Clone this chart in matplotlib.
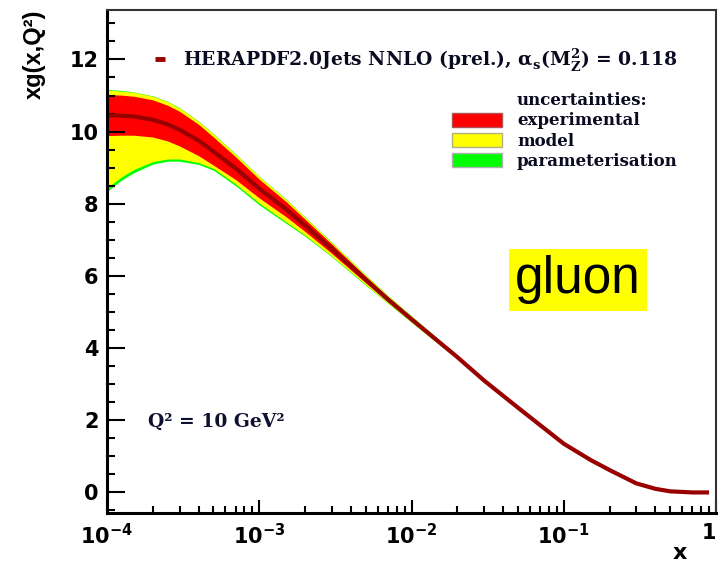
import numpy as np
import matplotlib.pyplot as plt
from matplotlib.lines import Line2D
from matplotlib.patches import Patch

# central gluon PDF at Q2 = 10 GeV2
x = [1e-4, 1.25e-4, 1.5e-4, 2e-4, 2.5e-4, 3e-4, 4e-4, 5e-4, 7e-4, 1e-3, 1.5e-3, 2e-3, 3e-3,
     5e-3, 7e-3, 1e-2, 2e-2, 3e-2, 5e-2, 0.1, 0.15, 0.2, 0.3, 0.4, 0.5, 0.7, 0.9]
central = [10.45, 10.44, 10.42, 10.33, 10.2, 10.05, 9.75, 9.45, 8.98, 8.42, 7.85, 7.4, 6.75,
           5.9, 5.35, 4.8, 3.75, 3.1, 2.35, 1.35, 0.9, 0.62, 0.25, 0.1, 0.03, 0.0, 0.0]

# uncertainty bands (only visible at low x)
x_band = [1e-4, 1.25e-4, 1.5e-4, 2e-4, 2.5e-4, 3e-4, 4e-4, 5e-4, 7e-4, 1e-3, 1.5e-3, 2e-3,
          3e-3, 5e-3, 7e-3, 1e-2, 2e-2]
exp_hi = [11.03, 11.01, 10.98, 10.88, 10.73, 10.56, 10.2, 9.85, 9.3, 8.68, 8.06, 7.57,
          6.88, 5.99, 5.42, 4.85, 3.79]
exp_lo = [9.89, 9.9, 9.9, 9.85, 9.74, 9.6, 9.33, 9.07, 8.67, 8.16, 7.64, 7.23,
          6.62, 5.81, 5.28, 4.75, 3.71]
mod_hi = [11.15, 11.12, 11.09, 10.98, 10.83, 10.65, 10.28, 9.93, 9.37, 8.75, 8.12, 7.62,
          6.92, 6.02, 5.45, 4.88, 3.8]
mod_lo = [8.44, 8.75, 8.95, 9.17, 9.24, 9.24, 9.14, 8.98, 8.55, 8.02, 7.5, 7.13,
          6.55, 5.76, 5.25, 4.72, 3.7]
par_hi = [11.17, 11.14, 11.1, 10.99, 10.84, 10.66, 10.29, 9.94, 9.38, 8.76, 8.13, 7.63,
          6.93, 6.03, 5.46, 4.89, 3.8]
par_lo = [8.34, 8.66, 8.86, 9.1, 9.18, 9.18, 9.09, 8.93, 8.5, 7.97, 7.46, 7.1,
          6.53, 5.74, 5.24, 4.71, 3.7]

xtick_vals = [1e-4, 1e-3, 1e-2, 1e-1, 1]
xtick_labels = [r'10$^{\mathregular{-4}}$', r'10$^{\mathregular{-3}}$', r'10$^{\mathregular{-2}}$',
                r'10$^{\mathregular{-1}}$', '1']
ytick_vals = [0, 2, 4, 6, 8, 10, 12]

W, H = 719, 562
fig = plt.figure(figsize=(W / 100, H / 100), dpi=100)
ax = fig.add_axes([107 / W, 1 - 513 / H, (716 - 107) / W, (513 - 10) / H])

ax.fill_between(x_band, par_lo, par_hi, color='#00ff00', lw=0)
ax.fill_between(x_band, mod_lo, mod_hi, color='#ffff00', lw=0)
ax.fill_between(x_band, exp_lo, exp_hi, color='#ff0000', lw=0)
ax.plot(x, central, color='#990000', lw=3, solid_capstyle='butt')

ax.set_xscale('log')
ax.set_xlim(1e-4, 1)
ax.set_ylim(-0.57, 13.37)

tick_font = dict(family='DejaVu Sans', weight='bold', size=15)
ax.set_xticks(xtick_vals)
ax.set_xticklabels(xtick_labels, fontdict=tick_font)
ax.get_xticklabels()[-1].set_ha('right')
ax.set_yticks(ytick_vals)
ax.set_yticklabels([str(v) for v in ytick_vals], fontdict=tick_font)
ax.set_yticks(np.arange(-0.5, 13.4, 0.5), minor=True)

ax.tick_params(axis='x', which='major', direction='in', length=9.5, width=1.5, pad=7, top=False)
ax.tick_params(axis='x', which='minor', direction='in', length=5, width=1.5, top=False)
ax.tick_params(axis='y', which='major', direction='in', length=13, width=1.5, pad=6, right=False)
ax.tick_params(axis='y', which='minor', direction='in', length=6, width=1.5, right=False)

for side in ['left', 'bottom']:
    ax.spines[side].set_linewidth(2.2)
for side in ['top', 'right']:
    ax.spines[side].set_linewidth(1.5)
    ax.spines[side].set_color('#333333')

ax.set_ylabel('xg(x,Q²)', family='Liberation Sans', weight='bold', size=17)
ax.yaxis.set_label_coords(-(107 - 34) / 609, 1.0)
ax.yaxis.label.set_va('center')
ax.yaxis.label.set_ha('right')
ax.set_xlabel('x', family='DejaVu Sans', weight='bold', size=16, va='center')
ax.xaxis.set_label_coords((680 - 107) / 609, -(553 - 513) / 503)

serif = dict(family='DejaVu Serif', weight='bold', size=12)
serif_big = dict(family='DejaVu Serif', weight='bold', size=13.5)

h1 = [Line2D([], [], color='#990000', lw=3.5, solid_capstyle='butt')]
leg1 = fig.legend(h1, [r'HERAPDF2.0Jets NNLO (prel.), α$_{\mathregular{s}}$(M$_{\mathregular{Z}}^{\mathregular{2}}$) = 0.118'],
                  loc='center left', bbox_to_anchor=(155 / W, 1 - 60 / H), frameon=False,
                  prop=serif_big, handlelength=0.55, handletextpad=0.95, borderpad=0, borderaxespad=0)
for t in leg1.get_texts():
    t.set_color('#0a0a20')

h2 = [Patch(facecolor='none', edgecolor='none'),
      Patch(facecolor='#ff0000', edgecolor='#b05050', lw=1),
      Patch(facecolor='#ffff00', edgecolor='#b0b080', lw=1),
      Patch(facecolor='#00ff00', edgecolor='#b0b0b0', lw=1)]
labels2 = ['uncertainties:', 'experimental', 'model', 'parameterisation']
leg2 = fig.legend(h2, labels2, loc='center left', bbox_to_anchor=(452 / W, 1 - 131 / H),
                  frameon=False, prop=serif, handlelength=3.0, handleheight=0.9,
                  handletextpad=0.9, labelspacing=0.2, borderpad=0, borderaxespad=0)
for t in leg2.get_texts():
    t.set_color('#0a0a20')

fig.text(148 / W, 1 - 422 / H, 'Q² = 10 GeV²', ha='left', va='center', color='#101030',
         family='DejaVu Serif', weight='bold', size=13.5)

fig.text(578 / W, 1 - 280 / H, 'gluon', ha='center', va='center', family='Liberation Sans',
         size=37, color='black',
         bbox=dict(boxstyle='square,pad=0.12', facecolor='#ffff00', edgecolor='none'))

fig.savefig('out.png', dpi=100)
